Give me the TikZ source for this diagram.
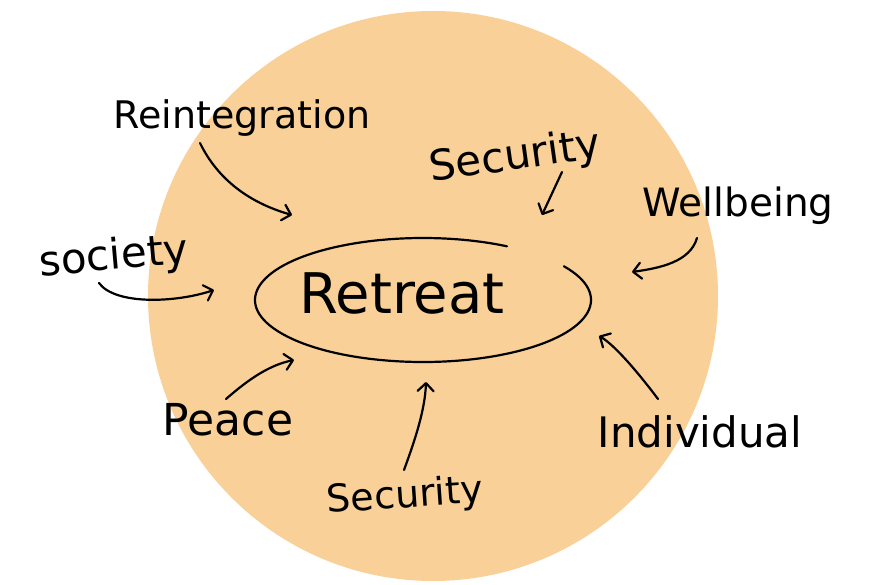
\documentclass[tikz,border=0pt]{standalone}
\usepackage{fontspec}
\setmainfont{DejaVu Sans}
\usetikzlibrary{arrows.meta}
\definecolor{peach}{RGB}{248,208,152}
\begin{document}
\begin{tikzpicture}[x=1pt,y=-1pt,
  lbl/.style={inner sep=0pt, text=black},
  ink/.style={line width=2.2pt, line cap=round, draw=black},
  arr/.style={ink, -{Straight Barb[length=8pt,width=16pt,line cap=round,line join=round]}},
]
\useasboundingbox (0,0) rectangle (886,585);
\coordinate (ctr) at (433,296);
\fill[peach] (ctr) circle[radius=285pt];

% central ellipse (open at top right, hand drawn)
\coordinate (ell) at (423,300);
\draw[ink] (ell) ++(-33:168 and 62) arc[start angle=-33, end angle=300, x radius=168, y radius=62];
\node[lbl, font=\fontsize{56}{58}\selectfont] (retreat) at (402,293) {Retreat};

% labels
\node[lbl, font=\fontsize{38}{40}\selectfont] (reint) at (242,118) {Reintegration};
\node[lbl, font=\fontsize{42}{44}\selectfont, rotate=8] (sectop) at (515,158) {Security};
\node[lbl, font=\fontsize{39}{41}\selectfont] (well) at (738,206) {Wellbeing};
\node[lbl, font=\fontsize{42}{44}\selectfont, rotate=5] (soc) at (114,258) {society};
\node[lbl, font=\fontsize{44}{46}\selectfont] (peace) at (228,420) {Peace};
\node[lbl, font=\fontsize{38}{40}\selectfont, rotate=4] (secbot) at (405,497) {Security};
\node[lbl, font=\fontsize{42}{44}\selectfont] (indiv) at (700,432) {Individual};

% arrow end points
\coordinate (a1s) at (200,143); \coordinate (a1e) at (292,215);
\coordinate (a2s) at (562,172); \coordinate (a2e) at (542,215);
\coordinate (a3s) at (697,238); \coordinate (a3e) at (632,272);
\coordinate (a4s) at (99,283);  \coordinate (a4e) at (214,290);
\coordinate (a5s) at (226,399); \coordinate (a5e) at (294,360);
\coordinate (a6s) at (404,470); \coordinate (a6e) at (426,382);
\coordinate (a7s) at (658,399); \coordinate (a7e) at (599,336);

\draw[arr] (a1s) .. controls (218,180) and (250,203) .. (a1e);
\draw[arr] (a2s) .. controls (555,187) .. (a2e);
\draw[arr] (a3s) .. controls (690,262) and (660,268) .. (a3e);
\draw[arr] (a4s) .. controls (115,305) and (175,303) .. (a4e);
\draw[arr] (a5s) .. controls (250,378) and (270,365) .. (a5e);
\draw[arr] (a6s) .. controls (415,440) and (425,410) .. (a6e);
\draw[arr] (a7s) .. controls (640,375) and (615,345) .. (a7e);
\end{tikzpicture}
\end{document}
